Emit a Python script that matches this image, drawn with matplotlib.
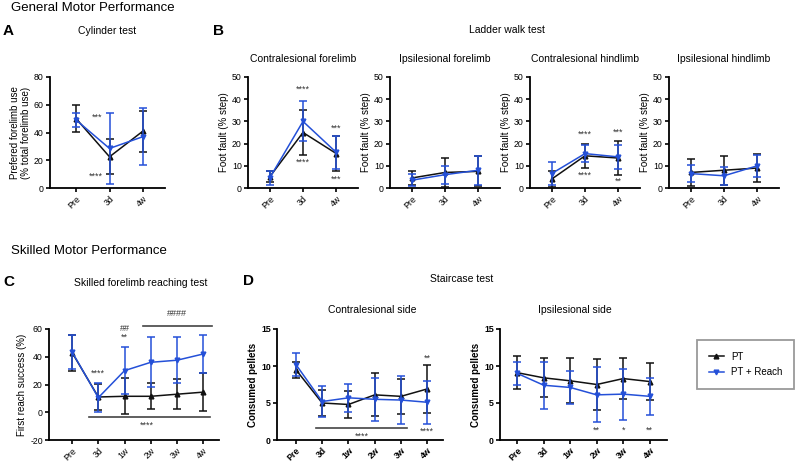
import matplotlib
matplotlib.use("Agg")
import matplotlib.pyplot as plt
from matplotlib.lines import Line2D

plt.rcParams['font.family'] = ['Liberation Sans', 'DejaVu Sans']

# ---------------- data ----------------
tp3 = ['Pre', '3d', '4w']
tp6 = ['Pre', '3d', '1w', '2w', '3w', '4w']

cyl_pt = [50, 22.5, 41]
cyl_pt_sd = [9.5, 12.5, 14.7]
cyl_reach = [49, 28.5, 37]
cyl_reach_sd = [5, 25.5, 20.5]

cfl_pt = [5, 25, 15.5]
cfl_pt_sd = [2.5, 10, 7.7]
cfl_reach = [4.5, 30, 16]
cfl_reach_sd = [3, 9, 7.5]

ifl_pt = [4.5, 7, 7.5]
ifl_pt_sd = [3, 6.7, 6.7]
ifl_reach = [3.5, 6, 8]
ifl_reach_sd = [2.8, 4, 6.5]

chl_pt = [4, 14.5, 13.5]
chl_pt_sd = [3.7, 5.5, 7.8]
chl_reach = [6.5, 15.5, 14]
chl_reach_sd = [5, 4, 5.4]

ihl_pt = [7, 8, 9]
ihl_pt_sd = [6, 6.5, 6.3]
ihl_reach = [6.5, 5.5, 10]
ihl_reach_sd = [4, 4, 5]

sfr_pt = [43, 11, 11.5, 11.5, 13, 14.5]
sfr_pt_sd = [13, 9.5, 13, 9.5, 10.7, 13.5]
sfr_reach = [43.5, 10.5, 30, 36, 37.5, 42]
sfr_reach_sd = [12, 10.5, 16.8, 18, 16.5, 13.5]

stc_pt = [9.5, 5.0, 4.8, 6.1, 5.9, 6.9]
stc_pt_sd = [1.1, 1.7, 1.8, 2.9, 2.4, 3.3]
stc_reach = [10.2, 5.2, 5.7, 5.5, 5.4, 5.1]
stc_reach_sd = [1.5, 2.1, 1.9, 2.9, 3.3, 2.9]

sti_pt = [9.1, 8.4, 8.0, 7.5, 8.3, 7.9]
sti_pt_sd = [2.25, 2.65, 3.05, 3.45, 2.75, 2.5]
sti_reach = [9.0, 7.4, 7.1, 6.1, 6.2, 5.9]
sti_reach_sd = [1.5, 3.2, 2.2, 3.7, 3.45, 2.5]

groups = ['PT', 'PT + Reach']

# ---------------- style ----------------
BLACK = '#111111'
BLUE = '#2450d8'
ANN = '#333333'
W, H = 800, 462

fig = plt.figure(figsize=(W / 100, H / 100), dpi=100)


def add_ax(l, t, r, b):
    return fig.add_axes([l / W, 1 - b / H, (r - l) / W, (b - t) / H])


def style(ax, labels, xlim, ylim, yticks, ylabel, bold=False):
    for s in ['top', 'right']:
        ax.spines[s].set_visible(False)
    for s in ['left', 'bottom']:
        ax.spines[s].set_linewidth(1.3)
        ax.spines[s].set_color('#000000')
    ax.set_xlim(*xlim)
    ax.set_ylim(*ylim)
    ax.set_yticks(yticks)
    ax.set_xticks(range(len(labels)))
    fw = 'bold' if bold else 'normal'
    ax.set_xticklabels(labels, rotation=45, ha='right', rotation_mode='anchor',
                       fontsize=6.3, fontweight=fw)
    ax.set_yticklabels([str(v) for v in yticks], fontsize=6.3, fontweight=fw)
    ax.tick_params(axis='both', length=3, width=1.2, pad=1.5, color='#000000')
    ax.set_ylabel(ylabel, fontsize=7, fontweight=fw, labelpad=2, linespacing=1.1)
    ax.patch.set_alpha(0)


def draw(ax, pt, pt_sd, rc, rc_sd):
    x = range(len(pt))
    ax.errorbar(x, pt, yerr=pt_sd, color=BLACK, marker='^', markersize=3.4,
                linewidth=1.1, elinewidth=1.1, capsize=2.6, capthick=1.1, zorder=3)
    ax.errorbar(x, rc, yerr=rc_sd, color=BLUE, marker='v', markersize=3.4,
                linewidth=1.1, elinewidth=1.1, capsize=2.6, capthick=1.1, zorder=4)


def ann(ax, x, y, s):
    ax.text(x, y, s, ha='center', va='center', fontsize=6.5, color=ANN, zorder=5,
            clip_on=False)


# ---------------- headers ----------------
fig.text(11 / W, 1 - 8 / H, 'General Motor Performance', fontsize=9.5, va='center', ha='left')
fig.text(11 / W, 1 - 251 / H, 'Skilled Motor Performance', fontsize=9.5, va='center', ha='left')
fig.text(3 / W, 1 - 31 / H, 'A', fontsize=11, fontweight='bold', va='center')
fig.text(213 / W, 1 - 31 / H, 'B', fontsize=11, fontweight='bold', va='center')
fig.text(3 / W, 1 - 282 / H, 'C', fontsize=11, fontweight='bold', va='center')
fig.text(243 / W, 1 - 281 / H, 'D', fontsize=11, fontweight='bold', va='center')
fig.text(107 / W, 1 - 31 / H, 'Cylinder test', fontsize=7.5, ha='center', va='center')
fig.text(507 / W, 1 - 30 / H, 'Ladder walk test', fontsize=7.5, ha='center', va='center')
fig.text(141 / W, 1 - 283 / H, 'Skilled forelimb reaching test', fontsize=7.5, ha='center', va='center')
fig.text(462 / W, 1 - 279 / H, 'Staircase test', fontsize=7.5, ha='center', va='center')

# ---------------- A: cylinder ----------------
axA = add_ax(50, 77, 165, 188)
draw(axA, cyl_pt, cyl_pt_sd, cyl_reach, cyl_reach_sd)
style(axA, tp3, (-0.78, 2.66), (0, 80), [0, 20, 40, 60, 80],
      'Prefered forelimb use\n(% total forelimb use)')
ann(axA, 0.62, 51, '***')
ann(axA, 0.6, 8.5, '****')

# ---------------- B: ladder walk ----------------
ladder = [
    (248, 'Contralesional forelimb', cfl_pt, cfl_pt_sd, cfl_reach, cfl_reach_sd,
     [(1, 44.5, '****'), (1, 11.5, '****'), (2, 27, '***'), (2, 3.8, '***')]),
    (390, 'Ipsilesional forelimb', ifl_pt, ifl_pt_sd, ifl_reach, ifl_reach_sd, []),
    (530, 'Contralesional hindlimb', chl_pt, chl_pt_sd, chl_reach, chl_reach_sd,
     [(1, 24, '****'), (1, 5.8, '****'), (2, 25, '***'), (2, 3.2, '**')]),
    (669, 'Ipsilesional hindlimb', ihl_pt, ihl_pt_sd, ihl_reach, ihl_reach_sd, []),
]
for left, title, p, ps, r, rs, marks in ladder:
    ax = add_ax(left, 77, left + 110, 188)
    draw(ax, p, ps, r, rs)
    style(ax, tp3, (-0.65, 2.65), (0, 50), [0, 10, 20, 30, 40, 50], 'Foot fault (% step)')
    ax.set_title(title, fontsize=7.5, pad=11)
    for x, y, s in marks:
        ann(ax, x, y, s)

# ---------------- C: skilled reaching ----------------
axC = add_ax(49, 329, 219, 440)
draw(axC, sfr_pt, sfr_pt_sd, sfr_reach, sfr_reach_sd)
style(axC, tp6, (-0.88, 5.6), (-20, 60), [-20, 0, 20, 40, 60], 'First reach success (%)')
axC.plot([2.7, 5.35], [62.5, 62.5], color='#444444', lw=1.2, clip_on=False)
ann(axC, 4.0, 71, '####')
ann(axC, 2.0, 60.5, '##')
ann(axC, 2.0, 54, '**')
ann(axC, 1.0, 28, '****')
axC.plot([0.65, 5.25], [-3.2, -3.2], color='#444444', lw=1.2)
ann(axC, 2.85, -9.5, '****')

# ---------------- D: staircase ----------------
axD1 = add_ax(277, 329, 443, 440)
draw(axD1, stc_pt, stc_pt_sd, stc_reach, stc_reach_sd)
style(axD1, tp6, (-0.72, 5.6), (0, 15), [0, 5, 10, 15], 'Consumed pellets', bold=True)
fig.text(372 / W, 1 - 310 / H, 'Contralesional side', fontsize=7.5, ha='center', va='center')
axD1.plot([0.77, 4.22], [1.6, 1.6], color='#444444', lw=1.2)
ann(axD1, 2.5, 0.55, '****')
ann(axD1, 5.0, 11.0, '**')
ann(axD1, 5.0, 1.2, '****')

axD2 = add_ax(500, 329, 667, 440)
draw(axD2, sti_pt, sti_pt_sd, sti_reach, sti_reach_sd)
style(axD2, tp6, (-0.65, 5.65), (0, 15), [0, 5, 10, 15], 'Consumed pellets', bold=True)
fig.text(575 / W, 1 - 310 / H, 'Ipsilesional side', fontsize=7.5, ha='center', va='center')
ann(axD2, 3.0, 1.35, '**')
ann(axD2, 4.0, 1.35, '*')
ann(axD2, 5.0, 1.35, '**')

# ---------------- legend ----------------
handles = [
    Line2D([0], [0], color=BLACK, marker='^', markersize=3.4, lw=1.1),
    Line2D([0], [0], color=BLUE, marker='v', markersize=3.4, lw=1.1),
]
leg = fig.legend(handles, groups, loc='upper left',
                 bbox_to_anchor=(697 / W, 1 - 340 / H), fontsize=7,
                 frameon=True, fancybox=False, handlelength=1.6,
                 borderpad=1.2, labelspacing=0.6, handletextpad=0.7,
                 borderaxespad=0)
frame = leg.get_frame()
frame.set_edgecolor('#808080')
frame.set_linewidth(1.3)

fig.savefig('out.png', dpi=100, facecolor='white')
